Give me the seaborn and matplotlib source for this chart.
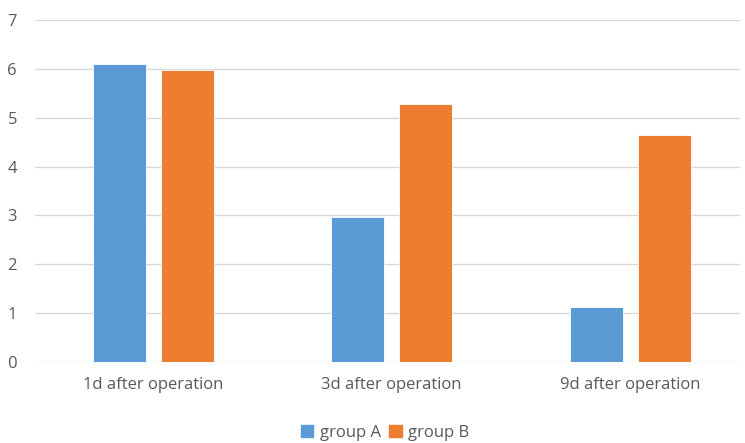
import matplotlib
matplotlib.use("Agg")
import matplotlib.pyplot as plt
import seaborn as sns
import pandas as pd

categories = ["1d after operation", "3d after operation", "9d after operation"]
group_a = [6.10, 2.97, 1.13]
group_b = [5.98, 5.28, 4.65]
series_names = ["group A", "group B"]
y_ticks = [0, 1, 2, 3, 4, 5, 6, 7]

df = pd.DataFrame({
    "time": categories * 2,
    "value": group_a + group_b,
    "group": [series_names[0]] * 3 + [series_names[1]] * 3,
})

sns.set_theme(style="white")
plt.rcParams["font.family"] = ["Open Sans", "DejaVu Sans"]

fig = plt.figure(figsize=(7.45, 4.43), dpi=100)
ax = fig.add_axes([35 / 745, 81 / 443, 705 / 745, 342 / 443])

palette = {"group A": "#5B9BD5", "group B": "#ED7D31"}
sns.barplot(data=df, x="time", y="value", hue="group", palette=palette,
            width=0.57, gap=0.22, saturation=1, ax=ax,
            edgecolor="white", linewidth=0.6, zorder=3)

ax.set_ylim(0, 7)
ax.set_xlim(-0.495, 2.46)
ax.set_yticks(y_ticks)
ax.set_yticklabels([str(t) for t in y_ticks])
ax.yaxis.grid(True, color="#D9D9D9", linewidth=1.0, zorder=0)
ax.set_axisbelow(True)
for s in ax.spines.values():
    s.set_visible(False)
ax.tick_params(axis="both", length=0, colors="#595959", labelsize=12)
ax.tick_params(axis="y", pad=13)
ax.tick_params(axis="x", pad=11)
for lbl in ax.get_xticklabels() + ax.get_yticklabels():
    lbl.set_color("#595959")
ax.set_xlabel("")
ax.set_ylabel("")

ax.legend_.remove()
handles = [plt.Rectangle((0, 0), 1, 1, color=palette[n]) for n in series_names]
fig.legend(handles, series_names, loc="center", bbox_to_anchor=(385 / 745, 1 - 433 / 443),
           ncol=2, frameon=False, handlelength=0.75, handleheight=0.75,
           handletextpad=0.4, columnspacing=0.5, labelcolor="#595959", fontsize=12)

fig.savefig("out.png", dpi=100)
